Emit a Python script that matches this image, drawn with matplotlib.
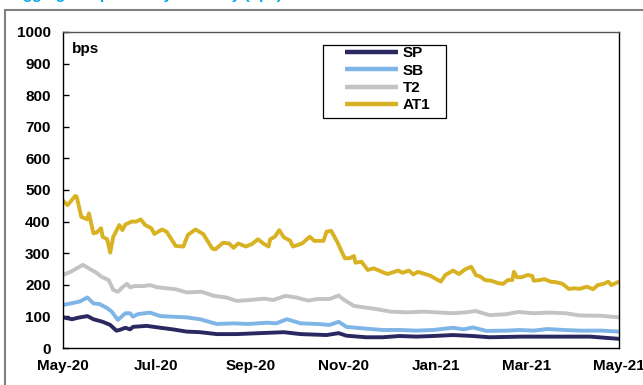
import matplotlib
matplotlib.use("Agg")
import matplotlib.pyplot as plt
from matplotlib.patches import Rectangle
from matplotlib.legend_handler import HandlerLine2D
import pandas as pd

plt.rcParams['font.family'] = ['Liberation Sans', 'DejaVu Sans']

start = pd.Timestamp('2020-05-01')

# Day offsets from 1 May 2020 and spreads in bps
at1_days = [0, 3, 8, 9, 12, 16, 17, 20, 22, 25, 26, 29, 31, 33, 37, 39, 41, 45, 48, 51, 54, 58, 60,
            65, 68, 74, 79, 82, 87, 92, 98, 100, 105, 109, 112, 115, 120, 124, 128, 132, 135, 136,
            139, 142, 145, 149, 151, 157, 162, 165, 171, 173, 176, 180, 185, 188, 191, 192, 196,
            200, 204, 213, 220, 223, 227, 230, 233, 241, 248, 251, 256, 260, 264, 268, 271, 274,
            277, 281, 286, 289, 292, 295, 296, 298, 301, 305, 308, 309, 313, 316, 320, 324, 328,
            332, 336, 339, 344, 348, 351, 355, 358, 360, 365]
at1_vals = [466, 452, 481, 479, 415, 407, 426, 363, 365, 379, 352, 344, 302, 352, 389, 373, 391, 400,
            400, 407, 389, 379, 361, 375, 368, 323, 321, 358, 375, 361, 315, 312, 333, 331, 317, 331,
            321, 329, 344, 329, 321, 344, 352, 373, 350, 340, 321, 331, 352, 339, 339, 368, 371, 336,
            284, 284, 291, 270, 273, 247, 252, 234, 245, 238, 245, 233, 241, 229, 210, 231, 245, 234,
            249, 257, 231, 226, 215, 213, 205, 203, 215, 215, 241, 224, 224, 231, 228, 213, 215, 218,
            210, 208, 203, 187, 189, 187, 194, 186, 199, 203, 210, 199, 210]

t2_days = [0, 5, 9, 13, 18, 22, 25, 30, 33, 36, 39, 42, 44, 47, 53, 57, 62, 68, 74, 81, 91, 99, 107,
           114, 123, 132, 138, 146, 153, 161, 167, 175, 181, 184, 191, 197, 206, 215, 226, 237, 248,
           256, 265, 271, 280, 291, 299, 309, 320, 330, 339, 353, 365]
t2_vals = [231, 241, 252, 263, 249, 238, 226, 215, 184, 178, 192, 203, 192, 196, 196, 199, 192, 189,
           186, 176, 178, 165, 160, 149, 152, 156, 152, 165, 160, 150, 155, 155, 166, 154, 133, 129,
           123, 115, 113, 115, 112, 110, 113, 117, 104, 107, 114, 110, 112, 110, 103, 102, 97]

sb_days = [0, 7, 11, 16, 20, 24, 29, 32, 36, 41, 44, 46, 49, 57, 64, 72, 81, 90, 101, 112, 121, 134,
           140, 147, 156, 167, 175, 181, 186, 197, 210, 221, 232, 243, 256, 263, 269, 278, 291, 300,
           309, 318, 329, 339, 353, 365]
sb_vals = [136, 143, 147, 160, 141, 139, 126, 115, 89, 110, 110, 99, 107, 112, 101, 99, 97, 91, 76,
           78, 76, 80, 78, 91, 78, 76, 73, 83, 67, 62, 57, 57, 55, 57, 64, 59, 65, 54, 55, 57, 55, 60,
           57, 55, 55, 52]

sp_days = [0, 6, 10, 16, 20, 26, 31, 35, 37, 41, 44, 46, 55, 64, 72, 81, 90, 101, 114, 129, 145, 156,
           173, 181, 186, 199, 210, 221, 232, 243, 256, 269, 280, 302, 324, 346, 365]
sp_vals = [97, 91, 96, 101, 91, 83, 73, 55, 57, 64, 59, 67, 70, 64, 59, 52, 50, 44, 44, 47, 50, 44,
           41, 47, 39, 34, 34, 38, 36, 38, 41, 38, 34, 36, 36, 36, 29]

series = [
    ('SP', sp_days, sp_vals, '#2b2861'),
    ('SB', sb_days, sb_vals, '#7fb4e6'),
    ('T2', t2_days, t2_vals, '#c3c3c3'),
    ('AT1', at1_days, at1_vals, '#d8b223'),
]

xtick_labels = ['May-20', 'Jul-20', 'Sep-20', 'Nov-20', 'Jan-21', 'Mar-21', 'May-21']
xtick_dates = ['2020-05-01', '2020-07-01', '2020-09-01', '2020-11-01', '2021-01-01', '2021-03-01', '2021-05-01']
yticks = [0, 100, 200, 300, 400, 500, 600, 700, 800, 900, 1000]

FS = 11
W, H = 643, 385
AX_L, AX_R, AX_T, AX_B = 63, 619, 32, 348


def ax_x(px):
    return (px - AX_L) / (AX_R - AX_L)


def ax_y(py):
    return (AX_B - py) / (AX_B - AX_T)


class OffsetLineHandler(HandlerLine2D):
    def get_xdata(self, legend, xdescent, ydescent, width, height, fontsize):
        xs = [-xdescent + 0.22 * width, -xdescent + width]
        return xs, xs


fig = plt.figure(figsize=(W / 100, H / 100), dpi=100)
ax = fig.add_axes([AX_L / W, (H - AX_B) / H, (AX_R - AX_L) / W, (AX_B - AX_T) / H])

for name, d, v, c in series:
    dates = start + pd.to_timedelta(d, unit='D')
    ax.plot(dates, v, color=c, lw=2.8, label=name, solid_joinstyle='round', solid_capstyle='round')

ax.set_xlim(pd.Timestamp('2020-05-01'), pd.Timestamp('2021-05-01'))
ax.set_ylim(0, 1000)
ax.set_yticks(yticks)
ax.set_yticklabels([str(t) for t in yticks], fontweight='bold', fontsize=FS)
ax.set_xticks(pd.to_datetime(xtick_dates))
ax.set_xticklabels(xtick_labels, fontweight='bold', fontsize=FS)
ax.tick_params(axis='y', direction='in', length=4, width=1, pad=9)
ax.tick_params(axis='x', length=0, pad=8)
for s in ax.spines.values():
    s.set_linewidth(1.0)
    s.set_color('black')
ax.spines['top'].set_color('#555555')

ax.text(0.016, 0.968, 'bps', transform=ax.transAxes, fontweight='bold', fontsize=FS,
        va='top', ha='left')

# legend (frame drawn separately to match the wide box)
leg = ax.legend(loc='upper left', bbox_to_anchor=(ax_x(330), ax_y(46.5)), borderaxespad=0,
                frameon=False, prop={'weight': 'bold', 'size': FS}, handlelength=4.45,
                handletextpad=0.3, labelspacing=0.21, borderpad=0,
                numpoints=2, handler_map={plt.Line2D: OffsetLineHandler(numpoints=2)})
for line in leg.get_lines():
    line.set_linewidth(3.2)
    line.set_solid_capstyle('butt')
ax.add_patch(Rectangle((ax_x(323), ax_y(118)), ax_x(446) - ax_x(323), ax_y(45) - ax_y(118),
                       transform=ax.transAxes, fill=False, edgecolor='black', lw=0.9, zorder=6))

# outer frame (partially visible)
fig.patches.append(Rectangle((4.5 / W, -0.1), 1.2, 1.1 - 10 / H, transform=fig.transFigure,
                             fill=False, edgecolor='#7f7f7f', lw=1.5, clip_on=False))

# title, mostly above the visible area (only descenders show)
fig.text(12 / W, 1.0 + 1.0 / H, 'Aggregate spreads by seniority (bps)', color='#00a6e6',
         fontsize=FS, fontweight='bold', va='baseline', ha='left')

fig.savefig('out.png', dpi=100)
